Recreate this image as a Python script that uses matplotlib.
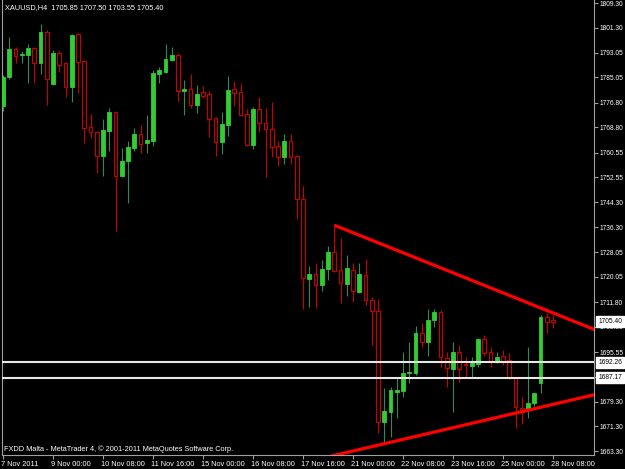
import numpy as np
import matplotlib
matplotlib.use("Agg")
import matplotlib.pyplot as plt
import matplotlib.transforms as mtransforms

plt.rcParams['font.family'] = ['Liberation Sans', 'DejaVu Sans']

# XAUUSD H4 candles (open, high, low, close)
opens = [1775.7, 1785.2, 1794.3, 1792.4, 1792.4, 1794.6, 1789.8, 1799.9, 1782.9, 1793.0,
         1789.8, 1781.9, 1799.2, 1790.4, 1768.9, 1767.3, 1759.4, 1767.6, 1773.8, 1752.9,
         1757.8, 1762.1, 1766.6, 1763.7, 1764.3, 1786.2, 1786.8, 1790.7, 1792.4, 1780.6,
         1781.3, 1776.1, 1780.3, 1779.7, 1771.8, 1764.0, 1769.5, 1781.3, 1780.3, 1773.1,
         1763.0, 1774.8, 1770.2, 1768.2, 1762.7, 1759.1, 1764.3, 1759.4, 1745.4, 1719.4,
         1721.0, 1717.4, 1722.6, 1728.2, 1722.3, 1717.7, 1722.3, 1715.1, 1720.7, 1712.5,
         1708.9, 1672.8, 1676.0, 1682.5, 1682.9, 1688.7, 1688.7, 1701.7, 1698.8, 1706.0,
         1708.6, 1693.6, 1690.0, 1695.6, 1691.7, 1691.0, 1691.7, 1699.8, 1695.6, 1692.6,
         1694.3, 1693.0, 1687.1, 1677.3, 1677.3, 1679.0, 1685.5, 1707.0, 1705.85]
highs = [1785.8, 1798.2, 1795.0, 1793.7, 1795.9, 1795.0, 1802.5, 1800.5, 1794.0, 1793.7,
         1790.0, 1799.2, 1799.5, 1790.6, 1773.1, 1767.6, 1771.5, 1775.1, 1774.1, 1762.1,
         1764.3, 1768.6, 1769.5, 1772.8, 1787.5, 1788.4, 1795.9, 1795.0, 1793.0, 1784.2,
         1786.2, 1782.6, 1782.3, 1780.6, 1772.1, 1773.8, 1785.5, 1783.9, 1783.2, 1774.8,
         1775.4, 1778.7, 1775.1, 1777.0, 1764.3, 1766.6, 1766.6, 1759.8, 1749.7, 1723.6,
         1724.6, 1725.5, 1730.1, 1736.9, 1732.7, 1727.2, 1724.6, 1724.6, 1725.9, 1713.5,
         1712.8, 1683.8, 1684.2, 1687.4, 1695.6, 1698.8, 1704.0, 1705.0, 1709.6, 1709.6,
         1709.3, 1695.6, 1698.8, 1697.8, 1693.9, 1693.9, 1700.1, 1701.1, 1697.2, 1695.6,
         1696.2, 1695.2, 1687.4, 1680.9, 1697.2, 1682.2, 1707.6, 1708.3, 1707.50]
lows = [1774.1, 1784.5, 1789.8, 1789.8, 1783.2, 1783.2, 1786.2, 1776.1, 1782.6, 1786.8,
        1778.7, 1777.0, 1780.0, 1763.7, 1765.3, 1753.9, 1752.9, 1761.1, 1735.0, 1752.6,
        1744.1, 1761.1, 1760.4, 1760.4, 1762.7, 1783.2, 1786.5, 1790.4, 1777.4, 1772.8,
        1775.1, 1773.5, 1778.3, 1765.6, 1759.4, 1760.1, 1766.0, 1775.7, 1772.5, 1762.7,
        1761.7, 1767.3, 1752.6, 1759.1, 1756.2, 1756.8, 1756.8, 1738.9, 1709.6, 1710.2,
        1709.9, 1715.4, 1719.0, 1721.7, 1711.5, 1713.8, 1711.9, 1714.8, 1710.9, 1697.8,
        1669.2, 1665.9, 1667.9, 1674.1, 1680.9, 1685.5, 1688.1, 1697.2, 1694.3, 1703.7,
        1690.7, 1684.2, 1676.0, 1685.8, 1687.1, 1687.4, 1690.7, 1694.3, 1690.7, 1692.0,
        1691.3, 1686.9, 1670.8, 1672.1, 1674.1, 1678.0, 1682.2, 1701.7, 1703.55]
closes = [1785.2, 1794.3, 1792.0, 1792.7, 1794.6, 1789.8, 1799.9, 1784.5, 1793.0, 1789.1,
          1781.9, 1798.9, 1790.1, 1768.6, 1767.3, 1759.4, 1767.9, 1773.8, 1752.9, 1757.8,
          1762.4, 1766.6, 1763.4, 1764.7, 1786.5, 1787.5, 1791.1, 1792.4, 1780.6, 1781.3,
          1776.1, 1779.7, 1779.0, 1771.5, 1764.0, 1769.9, 1781.0, 1780.0, 1772.8, 1763.0,
          1774.8, 1770.2, 1768.2, 1762.4, 1759.1, 1764.3, 1759.1, 1745.4, 1719.7, 1721.0,
          1717.4, 1722.6, 1728.2, 1722.0, 1718.1, 1722.9, 1715.4, 1721.0, 1712.5, 1708.9,
          1672.8, 1676.3, 1683.2, 1683.2, 1688.7, 1689.1, 1701.7, 1698.8, 1706.0, 1708.6,
          1693.9, 1690.3, 1695.6, 1690.0, 1691.3, 1692.0, 1699.8, 1695.2, 1692.6, 1693.9,
          1692.6, 1687.1, 1677.6, 1676.0, 1679.0, 1682.2, 1707.0, 1705.3, 1705.40]

time_ticks = [0, 8, 16, 24, 32, 40, 48, 56, 64, 72, 80, 88]
time_labels = ['7 Nov 2011', '9 Nov 00:00', '10 Nov 08:00', '11 Nov 16:00', '15 Nov 00:00',
               '16 Nov 08:00', '17 Nov 16:00', '21 Nov 00:00', '22 Nov 08:00', '23 Nov 16:00',
               '25 Nov 00:00', '28 Nov 08:00']
price_ticks = [1809.30, 1801.30, 1793.05, 1785.05, 1776.80, 1768.80, 1760.55, 1752.55, 1744.30,
               1736.30, 1728.05, 1720.05, 1711.80, 1703.80, 1695.55, 1687.55, 1679.30, 1671.30,
               1663.30]
# the 1687.55 label sits under the 1687.17 level box, so it is not shown
price_labels = ['%.2f' % p if p != 1687.55 else '' for p in price_ticks]

# horizontal levels and trend lines (bar index, price anchors)
levels = [1692.26, 1687.17]
upper_line = ([53, 88], [1736.9, 1708.3])
lower_line = ([60, 88], [1665.2, 1678.5])

header = 'XAUUSD,H4  1705.85 1707.50 1703.55 1705.40'
footer = 'FXDD Malta - MetaTrader 4, \u00a9 2001-2011 MetaQuotes Software Corp.'

bull_body = '#32cd32'
bull_wick = '#2e8b57'
bear_col = '#c80000'
fs = 5.3
fs_y = 4.8

fig = plt.figure(figsize=(6.25, 4.69), dpi=100, facecolor='black')
ax = fig.add_axes([2/625, 14/469, 592/625, 455/469], facecolor='black')

o = np.array(opens)
h = np.array(highs)
l = np.array(lows)
c = np.array(closes)
x = np.arange(len(o))
up = c >= o

# wicks
wick_cols = [bull_wick if u else bear_col for u in up]
ax.vlines(x, l, h, colors=wick_cols, linewidth=0.8, zorder=2)

# bodies
bottom = np.minimum(o, c)
height = np.maximum(np.abs(c - o), 0.35)
ax.bar(x[up], height[up], bottom=bottom[up], width=0.62, color=bull_body,
       edgecolor=bull_body, linewidth=0.6, zorder=3)
ax.bar(x[~up], height[~up], bottom=bottom[~up], width=0.62, color='black',
       edgecolor=bear_col, linewidth=0.8, zorder=3)

# horizontal lines
for lv in levels:
    ax.axhline(lv, color='#e8e8e8', linewidth=1.5, zorder=4)

# trend lines (rays to the right)
def ray(ax, pts, x_start, color):
    xs, ys = pts
    slope = (ys[1] - ys[0]) / (xs[1] - xs[0])
    x_end = 100
    ax.plot([x_start, x_end], [ys[0] + slope * (x_start - xs[0]), ys[0] + slope * (x_end - xs[0])],
            color=color, linewidth=2.3, solid_capstyle='butt', zorder=5)

ray(ax, upper_line, upper_line[0][0], '#ff0000')
ray(ax, lower_line, 40, '#ff0000')

ax.set_xlim(-0.16, 94.56)
ax.set_ylim(1662.0, 1810.28)

# axes styling
for side in ['left', 'bottom', 'right']:
    ax.spines[side].set_color('#a0a0a0')
    ax.spines[side].set_linewidth(0.8)
ax.spines['top'].set_visible(False)

ax.yaxis.tick_right()
ax.set_yticks(price_ticks)
ax.set_yticklabels(price_labels)
ax.tick_params(axis='y', colors='#a0a0a0', labelcolor='white', labelsize=fs_y, length=3, width=0.8, pad=1.2)

ax.set_xticks(time_ticks)
ax.set_xticklabels(time_labels, ha='left')
ax.tick_params(axis='x', colors='#a0a0a0', labelcolor='white', labelsize=fs, length=3, width=0.8, pad=1)
offset = mtransforms.ScaledTranslation(-2/100, 0, fig.dpi_scale_trans)
for lab in ax.get_xticklabels():
    lab.set_transform(lab.get_transform() + offset)

# price boxes on the right axis
trans = mtransforms.blended_transform_factory(ax.transAxes, ax.transData)
for p in [closes[-1]] + levels:
    ax.text(1.007, p, '%.2f' % p, transform=trans, ha='left', va='center', fontsize=fs_y,
            color='black', clip_on=False, zorder=6,
            bbox=dict(boxstyle='square,pad=0.3', facecolor='white', edgecolor='white'))

fig.text(5/625, 1 - 8/469, header, color='white', fontsize=fs, ha='left', va='center')
fig.text(4/625, 1 - 449/469, footer, color='white', fontsize=fs, ha='left', va='center')

fig.savefig('out.png', dpi=100, facecolor='black')
